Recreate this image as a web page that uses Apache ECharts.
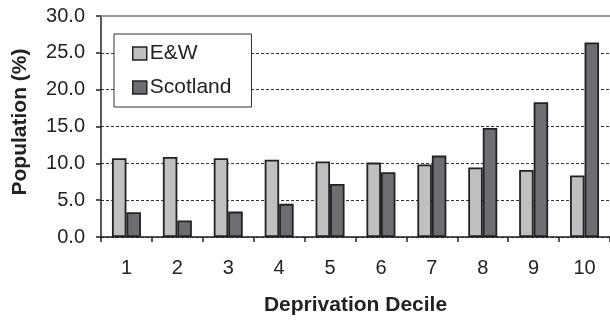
<!DOCTYPE html>
<html>
<head>
<meta charset="utf-8">
<script src="https://cdn.jsdelivr.net/npm/echarts@6/dist/echarts.min.js"></script>
<style>
  html, body { margin: 0; padding: 0; background: #fff; }
  #main { width: 610px; height: 321px; }
</style>
</head>
<body>
<div id="main"></div>
<script>
// deprivation deciles and population share (%)
const deciles = ['1', '2', '3', '4', '5', '6', '7', '8', '9', '10'];
const ewValues = [10.7, 10.85, 10.7, 10.5, 10.25, 10.1, 9.85, 9.45, 9.1, 8.35];
const scotValues = [3.35, 2.25, 3.45, 4.5, 7.2, 8.8, 11.05, 14.8, 18.3, 26.4];
const yTicks = { min: 0, max: 30, step: 5 };

const chart = echarts.init(document.getElementById('main'), null, { renderer: 'canvas' });
const font = 'Liberation Sans, Arial, sans-serif';

const option = {
  animation: false,
  backgroundColor: '#fff',
  textStyle: { fontFamily: font },
  grid: { left: 101, right: -2, top: 16, bottom: 84 },
  legend: {
    orient: 'vertical',
    left: 114,
    top: 34,
    padding: [9, 20, 9, 18],
    itemGap: 13,
    itemWidth: 14,
    itemHeight: 13,
    itemStyle: { borderColor: '#222', borderWidth: 1.5 },
    backgroundColor: '#fff',
    borderColor: '#333',
    borderWidth: 1,
    textStyle: { fontSize: 21, color: '#222', fontFamily: font, padding: [0, 0, 0, -2] },
    data: [{ name: 'E&W', icon: 'rect' }, { name: 'Scotland', icon: 'rect' }]
  },
  xAxis: [{
    type: 'category',
    data: deciles,
    name: 'Deprivation Decile',
    nameLocation: 'middle',
    nameGap: 58,
    nameTextStyle: { fontSize: 21, fontWeight: 'bold', color: '#222', fontFamily: font },
    axisLine: { lineStyle: { color: '#222', width: 1.5 } },
    axisTick: { show: true, length: 5, lineStyle: { color: '#222', width: 1.5 } },
    axisLabel: { fontSize: 20, color: '#222', margin: 21, fontFamily: font }
  }, {
    type: 'category',
    position: 'top',
    data: deciles,
    axisLine: { lineStyle: { color: '#999', width: 2 } },
    axisTick: { show: false },
    axisLabel: { show: false }
  }],
  yAxis: {
    type: 'value',
    min: yTicks.min,
    max: yTicks.max,
    interval: yTicks.step,
    name: 'Population (%)',
    nameLocation: 'middle',
    nameGap: 70,
    nameTextStyle: { fontSize: 21, fontWeight: 'bold', color: '#222', fontFamily: font, padding: [0, 0, 0, 9] },
    axisLine: { show: true, lineStyle: { color: '#222', width: 1.5 } },
    axisTick: { show: true, length: 5, lineStyle: { color: '#222', width: 1.5 } },
    axisLabel: { fontSize: 20, color: '#222', margin: 16, fontFamily: font, formatter: v => v.toFixed(1) },
    splitLine: { show: true, lineStyle: { color: '#333', type: [3, 2], width: 1 } }
  },
  series: [{
    name: 'E&W',
    type: 'bar',
    data: ewValues,
    barWidth: 14.5,
    barGap: '0%',
    itemStyle: { color: '#bfc0c2', borderColor: '#222', borderWidth: 1.8 }
  }, {
    name: 'Scotland',
    type: 'bar',
    data: scotValues,
    barWidth: 14.5,
    barGap: '0%',
    itemStyle: { color: '#6d6e71', borderColor: '#222', borderWidth: 1.8 }
  }]
};

chart.setOption(option);
</script>
</body>
</html>
